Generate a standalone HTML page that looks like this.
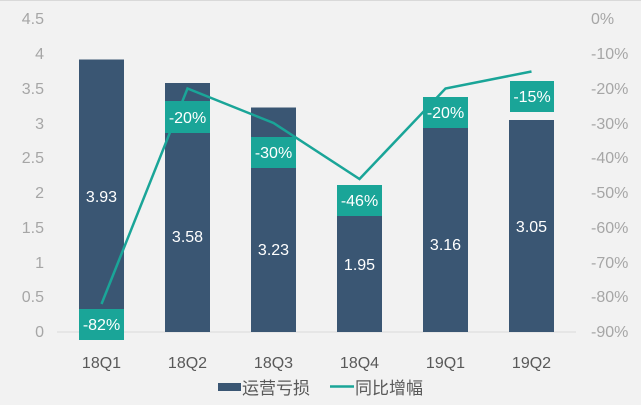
<!DOCTYPE html>
<html><head><meta charset="utf-8"><style>
body{margin:0;background:#f2f2f2;}
svg{display:block;font-family:"Liberation Sans","Noto Sans CJK SC",sans-serif;}
</style></head><body>
<svg width="641" height="405" viewBox="0 0 641 405">
<rect width="641" height="405" fill="#f2f2f2"/>
<line x1="0" y1="0.5" x2="641" y2="0.5" stroke="#d9d9d9"/>
<g fill="#a6a6a6" font-size="16" text-anchor="end">
<text x="44" y="24">4.5</text><text x="44" y="59">4</text><text x="44" y="94">3.5</text><text x="44" y="129">3</text><text x="44" y="163">2.5</text><text x="44" y="198">2</text><text x="44" y="233">1.5</text><text x="44" y="268">1</text><text x="44" y="302">0.5</text><text x="44" y="337">0</text>
</g>
<g fill="#a6a6a6" font-size="16" text-anchor="start">
<text x="591" y="24">0%</text><text x="591" y="59">-10%</text><text x="591" y="94">-20%</text><text x="591" y="129">-30%</text><text x="591" y="163">-40%</text><text x="591" y="198">-50%</text><text x="591" y="233">-60%</text><text x="591" y="268">-70%</text><text x="591" y="302">-80%</text><text x="591" y="337">-90%</text>
</g>
<line x1="57" y1="332" x2="576" y2="332" stroke="#d9d9d9"/>
<g fill="#3a5673">
<rect x="79" y="59.5" width="45" height="272.5"/>
<rect x="165" y="83" width="45" height="249"/>
<rect x="251" y="107.5" width="45" height="224.5"/>
<rect x="337" y="196" width="45" height="136"/>
<rect x="423" y="112" width="45" height="220"/>
<rect x="509" y="120" width="45" height="212"/>
</g>
<g fill="#fff" font-size="16" text-anchor="middle">
<text x="101.5" y="202">3.93</text><text x="187.5" y="242">3.58</text><text x="273.5" y="255">3.23</text><text x="359.5" y="270">1.95</text><text x="445.5" y="250">3.16</text><text x="531.5" y="232">3.05</text>
</g>
<polyline points="101.5,304 187.5,88.5 273.5,123 359.5,179 445.5,88.5 531.5,71.5" fill="none" stroke="#1aa598" stroke-width="2.5"/>
<g fill="#1aa598">
<rect x="79" y="309" width="45" height="31"/>
<rect x="165" y="101" width="45" height="32"/>
<rect x="251" y="137" width="45" height="31"/>
<rect x="337" y="185" width="45" height="31"/>
<rect x="423" y="97" width="45" height="31"/>
<rect x="510" y="81" width="44" height="31"/>
</g>
<g fill="#fff" font-size="16" text-anchor="middle">
<text x="101.5" y="330">-82%</text><text x="187.5" y="123">-20%</text><text x="273.5" y="158">-30%</text><text x="359.5" y="206">-46%</text><text x="445.5" y="118">-20%</text><text x="532" y="102">-15%</text>
</g>
<g fill="#595959" font-size="16" text-anchor="middle">
<text x="101.5" y="368">18Q1</text><text x="187.5" y="368">18Q2</text><text x="273.5" y="368">18Q3</text><text x="359.5" y="368">18Q4</text><text x="445.5" y="368">19Q1</text><text x="531.5" y="368">19Q2</text>
</g>
<rect x="218" y="383" width="23" height="8" fill="#3a5673"/>
<text x="242" y="394" font-size="17" fill="#595959">运营亏损</text>
<line x1="330" y1="386.5" x2="354" y2="386.5" stroke="#1aa598" stroke-width="2.5"/>
<text x="355" y="394" font-size="17" fill="#595959">同比增幅</text>
</svg>
</body></html>
